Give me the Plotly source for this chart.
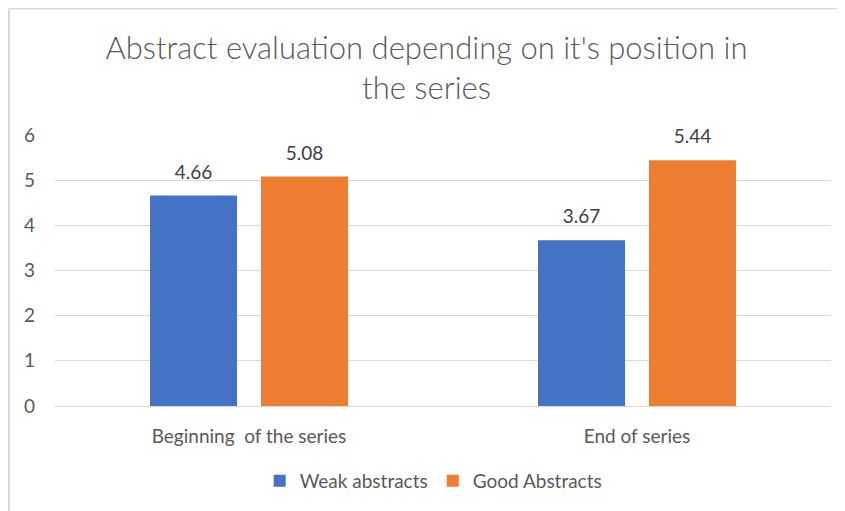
import plotly.graph_objects as go

categories = ["Beginning  of the series", "End of series"]
weak_values = [4.66, 3.67]
good_values = [5.08, 5.44]
series_names = ["Weak abstracts", "Good Abstracts"]
y_ticks = [0, 1, 2, 3, 4, 5, 6]

FONT = "Lato, 'Open Sans', sans-serif"
TXT = "#595959"
COLORS = ["#4472C4", "#ED7D31"]

fig = go.Figure()
for i, (vals, name) in enumerate(zip([weak_values, good_values], series_names)):
    fig.add_trace(go.Bar(x=categories, y=vals, name=name, offsetgroup=str(i),
                         marker=dict(color=COLORS[i], line=dict(width=0))))
for i, vals in enumerate([weak_values, good_values]):
    fig.add_trace(go.Scatter(x=categories, y=vals, mode="markers+text", offsetgroup=str(i),
                             text=[f"{v:.2f}" for v in vals], textposition="top center",
                             marker=dict(size=18, opacity=0), showlegend=False,
                             hoverinfo="skip", cliponaxis=False,
                             textfont=dict(size=19, color="#404040", family=FONT)))

fig.update_layout(
    width=837, height=503,
    margin=dict(l=47, r=14, t=127, b=104),
    paper_bgcolor="white", plot_bgcolor="white",
    font=dict(family=FONT, color=TXT, size=19),
    title=dict(text="Abstract evaluation depending on it's position in<br>the series",
               x=0.5, xanchor="center", y=0.899, yanchor="middle",
               font=dict(size=31, color=TXT, family=FONT, weight=300)),
    barmode="group", bargap=0.428, bargroupgap=0.216,
    scattermode="group", scattergap=0.428,
    xaxis=dict(showgrid=False, showline=True, linecolor="#D9D9D9", linewidth=1,
               ticks="", tickfont=dict(size=19, color=TXT), ticklabelstandoff=13,
               range=[-0.5, 1.5]),
    yaxis=dict(range=[0, 6], tickvals=y_ticks, showgrid=True, gridcolor="#D9D9D9",
               gridwidth=1, zeroline=False, showline=False, ticks="",
               tickfont=dict(size=19, color=TXT), ticklabelstandoff=19),
    legend=dict(orientation="h", x=0.488, xanchor="center", y=-0.272, yanchor="middle",
                font=dict(size=19, color=TXT), itemwidth=30, traceorder="normal"),
    showlegend=True,
)

fig.add_shape(type="line", xref="paper", yref="paper",
              x0=-0.0593, x1=1.1, y0=1.467, y1=1.467,
              line=dict(color="#D9D9D9", width=2))
fig.add_shape(type="line", xref="paper", yref="paper",
              x0=-0.0593, x1=-0.0593, y0=1.467, y1=-0.5,
              line=dict(color="#D9D9D9", width=2))

fig.write_html("out.html")
